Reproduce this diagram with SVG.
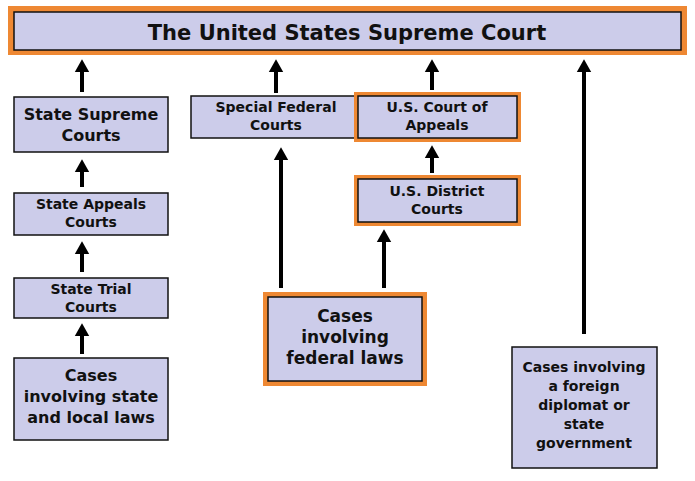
<svg xmlns="http://www.w3.org/2000/svg" width="695" height="481" viewBox="0 0 695 481">
<style>
.b{fill:#ccccea;stroke:#111;stroke-width:1.5}
.o{fill:#ee8833}
.t{font-family:"DejaVu Sans",Verdana,sans-serif;font-weight:bold;fill:#111;text-anchor:middle}
.c line{stroke:#000;stroke-width:4;marker-end:url(#a)}
</style>
<defs><marker id="a" markerWidth="4" markerHeight="4" refX="2" refY="2" orient="auto" markerUnits="strokeWidth"><path d="M0,0.2L3.2,2L0,3.8Z" fill="#000"/></marker></defs>
<rect width="695" height="481" fill="#fff"/>
<g id="supreme"><rect class="o" x="8" y="6" width="679" height="49"/><rect class="b" x="14" y="12" width="667" height="38"/><text class="t" x="347" y="40" font-size="21">The United States Supreme Court</text></g>
<g id="stateSupreme"><rect class="b" x="14" y="97" width="154" height="55"/><text class="t" x="91" y="120" font-size="16">State Supreme</text><text class="t" x="91" y="141" font-size="16">Courts</text></g>
<g id="stateAppeals"><rect class="b" x="14" y="193" width="154" height="42"/><text class="t" x="91" y="209" font-size="14">State Appeals</text><text class="t" x="91" y="227" font-size="14">Courts</text></g>
<g id="stateTrial"><rect class="b" x="14" y="278" width="154" height="40"/><text class="t" x="91" y="294" font-size="14">State Trial</text><text class="t" x="91" y="312" font-size="14">Courts</text></g>
<g id="stateCases"><rect class="b" x="14" y="358" width="154" height="82"/><text class="t" x="91" y="381" font-size="16">Cases</text><text class="t" x="91" y="402" font-size="16">involving state</text><text class="t" x="91" y="423" font-size="16">and local laws</text></g>
<g id="specialFederal"><rect class="b" x="191" y="96" width="170" height="42"/><text class="t" x="276" y="112" font-size="14">Special Federal</text><text class="t" x="276" y="130" font-size="14">Courts</text></g>
<g id="appeals"><rect class="o" x="354" y="92" width="167" height="50"/><rect class="b" x="358" y="96" width="159" height="42"/><text class="t" x="437" y="112" font-size="14">U.S. Court of</text><text class="t" x="437" y="130" font-size="14">Appeals</text></g>
<g id="district"><rect class="o" x="354" y="175" width="167" height="51"/><rect class="b" x="358" y="179" width="159" height="43"/><text class="t" x="437" y="196" font-size="14">U.S. District</text><text class="t" x="437" y="214" font-size="14">Courts</text></g>
<g id="federalCases"><rect class="o" x="263" y="292" width="164" height="94"/><rect class="b" x="268" y="297" width="154" height="84"/><text class="t" x="345" y="322" font-size="17">Cases</text><text class="t" x="345" y="343" font-size="17">involving</text><text class="t" x="345" y="364" font-size="17">federal laws</text></g>
<g id="foreign"><rect class="b" x="512" y="347" width="145" height="121"/><text class="t" x="584" y="372" font-size="14">Cases involving</text><text class="t" x="584" y="391" font-size="14">a foreign</text><text class="t" x="584" y="410" font-size="14">diplomat or</text><text class="t" x="584" y="429" font-size="14">state</text><text class="t" x="584" y="448" font-size="14">government</text></g>
<g class="c">
<line x1="82" y1="92" x2="82" y2="64"/>
<line x1="82" y1="187" x2="82" y2="164"/>
<line x1="82" y1="272" x2="82" y2="246"/>
<line x1="82" y1="354" x2="82" y2="328"/>
<line x1="276" y1="93" x2="276" y2="64"/>
<line x1="281" y1="288" x2="281" y2="152"/>
<line x1="384" y1="288" x2="384" y2="234"/>
<line x1="432" y1="90" x2="432" y2="64"/>
<line x1="432" y1="173" x2="432" y2="150"/>
<line x1="584" y1="334" x2="584" y2="64"/>
</g>
</svg>
